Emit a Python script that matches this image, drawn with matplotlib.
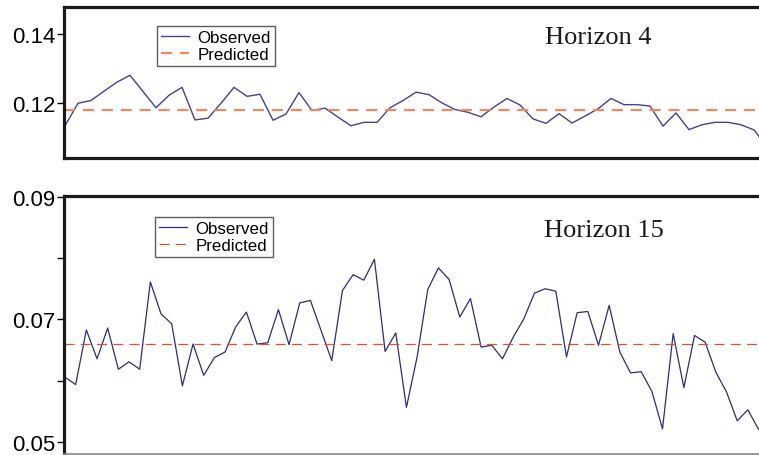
import matplotlib
matplotlib.use("Agg")
import matplotlib.pyplot as plt
import numpy as np

# ---- data ----
obs_h4 = [0.1135, 0.1200, 0.1208, 0.1235, 0.1261, 0.1281, 0.1234, 0.1187, 0.1223,
          0.1246, 0.1152, 0.1157, 0.1200, 0.1246, 0.1220, 0.1226, 0.1151, 0.1169,
          0.1231, 0.1179, 0.1186, 0.1160, 0.1135, 0.1145, 0.1145, 0.1187, 0.1208,
          0.1232, 0.1225, 0.1201, 0.1182, 0.1174, 0.1161, 0.1189, 0.1214, 0.1195,
          0.1155, 0.1142, 0.1170, 0.1143, 0.1163, 0.1184, 0.1214, 0.1196, 0.1196,
          0.1192, 0.1134, 0.1172, 0.1124, 0.1138, 0.1145, 0.1145, 0.1138, 0.1123,
          0.1075]
pred_h4 = 0.1182

obs_h15 = [0.0606, 0.0594, 0.0683, 0.0636, 0.0686, 0.0619, 0.0631, 0.0619, 0.0761,
           0.0709, 0.0693, 0.0592, 0.0660, 0.0609, 0.0638, 0.0647, 0.0688, 0.0712,
           0.0660, 0.0662, 0.0716, 0.0659, 0.0727, 0.0731, 0.0682, 0.0633, 0.0747,
           0.0773, 0.0764, 0.0798, 0.0648, 0.0678, 0.0557, 0.0639, 0.0749, 0.0784,
           0.0765, 0.0704, 0.0734, 0.0655, 0.0658, 0.0636, 0.0671, 0.0701, 0.0743,
           0.0750, 0.0746, 0.0639, 0.0711, 0.0713, 0.0658, 0.0723, 0.0647, 0.0613,
           0.0615, 0.0583, 0.0522, 0.0677, 0.0589, 0.0674, 0.0663, 0.0614, 0.0582,
           0.0535, 0.0553, 0.0521]
pred_h15 = 0.0660

top_ticks = [0.12, 0.14]
top_labels = ["0.12", "0.14"]
bot_ticks = [0.05, 0.06, 0.07, 0.08, 0.09]
bot_labels = ["0.05", "", "0.07", "", "0.09"]

W, H = 759, 456
fig = plt.figure(figsize=(W / 100, H / 100), dpi=100)
sans = "Liberation Sans"
serif = "Liberation Serif"

def fx(px):
    return px / W

def fy(py):
    return 1 - py / H

# top panel: x 64..759, y 8..159
ax1 = fig.add_axes([fx(64), fy(159), fx(759 - 64), (159 - 8) / H])
# bottom panel: x 64..759, y 197..455
ax2 = fig.add_axes([fx(64), fy(455), fx(759 - 64), (455 - 197) / H])

x1 = np.arange(len(obs_h4))
x2 = np.arange(len(obs_h15))

ax1.plot(x1, obs_h4, color="#48408f", lw=1.0, label="Observed")
ax1.axhline(pred_h4, color="#f08a5c", lw=1.6, dashes=(5, 3.5), label="Predicted")
ax1.set_xlim(-1 / 13, (759 - 65) / 13)
ax1.set_ylim(0.1042, 0.1478)

ax2.plot(x2, obs_h15, color="#2e2c7c", lw=0.9, label="Observed")
ax2.axhline(pred_h15, color="#e0521f", lw=0.9, dashes=(8, 5), label="Predicted")
ax2.set_xlim(-1 / 10.67, (759 - 65) / 10.67)
ax2.set_ylim(0.0481, 0.0901)

for ax, ticks, labels in ((ax1, top_ticks, top_labels), (ax2, bot_ticks, bot_labels)):
    ax.set_yticks(ticks)
    ax.set_yticklabels(labels, fontfamily=sans, fontsize=16)
    ax.set_xticks([])
    ax.tick_params(axis="y", direction="out", length=5, width=1, pad=1, colors="black")
    ax.spines["right"].set_visible(False)
    for s in ("left", "top"):
        ax.spines[s].set_linewidth(2.3)
        ax.spines[s].set_color("#1a1a1a")

ax1.spines["bottom"].set_linewidth(2.3)
ax1.spines["bottom"].set_color("#1a1a1a")
ax2.spines["bottom"].set_linewidth(1.2)
ax2.spines["bottom"].set_color("#888888")

for ax, anchor in ((ax1, ((157 - 64) / 695, 1 - (27 - 8) / 151)),
                   (ax2, ((155 - 64) / 695, 1 - (218 - 197) / 258))):
    leg = ax.legend(loc="upper left", bbox_to_anchor=anchor, frameon=True,
                    fancybox=False, prop={"family": sans, "size": 12.2},
                    handlelength=1.65, handletextpad=0.5, borderpad=0.25,
                    labelspacing=0.1, borderaxespad=0)
    leg.get_frame().set_edgecolor("#333333")
    leg.get_frame().set_linewidth(1.0)

ax1.text((598.5 - 64) / 695, 1 - (44 - 8) / 151, "Horizon 4", transform=ax1.transAxes,
         ha="center", va="baseline", fontfamily=serif, fontsize=19, color="#1a1a1a")
ax2.text((603.5 - 64) / 695, 1 - (236.7 - 197) / 258, "Horizon 15", transform=ax2.transAxes,
         ha="center", va="baseline", fontfamily=serif, fontsize=19, color="#1a1a1a")

fig.savefig("out.png", dpi=100)
